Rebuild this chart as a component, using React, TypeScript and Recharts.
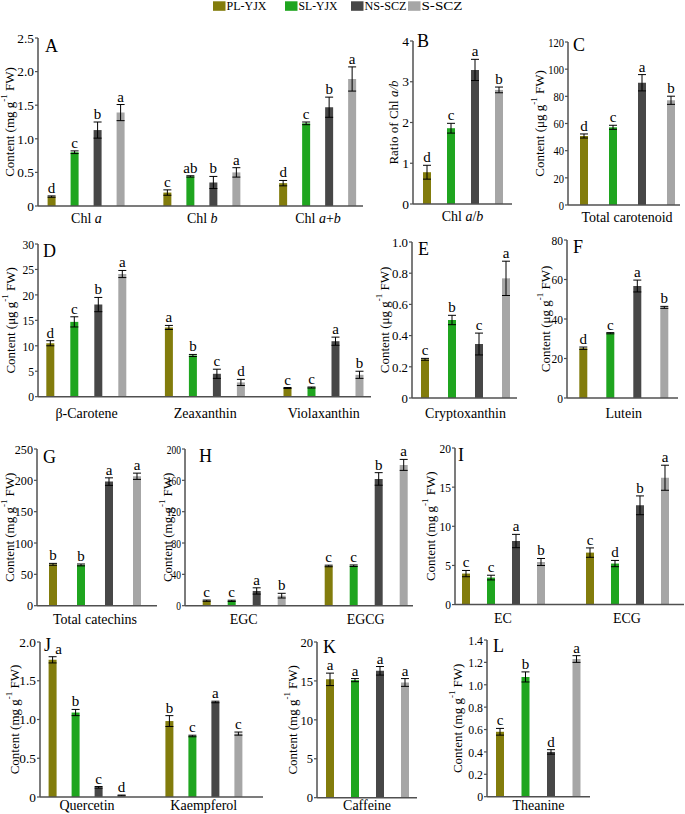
import React from 'react';
import { BarChart, Bar, XAxis, YAxis, ErrorBar, LabelList } from 'recharts';

const FONT = '"Liberation Serif", "Times New Roman", serif';
const AXIS = '#505050';

const seriesNames = ['PL-YJX', 'SL-YJX', 'NS-SCZ', 'S-SCZ'];
const seriesColors = ['#827c0c', '#1fa51f', '#474747', '#a6a6a6'];

// A
const chlCats = ['Chl a', 'Chl b', 'Chl a+b'];
const chlValues = [[0.14, 0.2, 0.34], [0.8, 0.44, 1.23], [1.13, 0.35, 1.47], [1.39, 0.5, 1.89]];
const chlErrors = [[0.01, 0.04, 0.04], [0.02, 0.01, 0.02], [0.12, 0.09, 0.15], [0.12, 0.07, 0.18]];
const chlLetters = [['d', 'c', 'd'], ['c', 'ab', 'c'], ['b', 'b', 'b'], ['a', 'a', 'a']];
const chlTicks = [0, 0.5, 1, 1.5, 2, 2.5];

// B
const ratioCats = ['Chl a/b'];
const ratioValues = [[0.78], [1.86], [3.29], [2.8]];
const ratioErrors = [[0.17], [0.12], [0.26], [0.07]];
const ratioLetters = [['d'], ['c'], ['a'], ['b']];
const ratioTicks = [0, 1, 2, 3, 4];

// C
const carCats = ['Total carotenoid'];
const carValues = [[50.8], [57.2], [90.0], [77.1]];
const carErrors = [[1.5], [1.5], [6], [3]];
const carLetters = [['d'], ['c'], ['a'], ['b']];
const carTicks = [0, 20, 40, 60, 80, 100, 120];

// D
const xanCats = ['β-Carotene', 'Zeaxanthin', 'Violaxanthin'];
const xanValues = [[10.5, 13.6, 1.7], [14.7, 8.1, 1.8], [18.1, 4.5, 10.9], [24.1, 2.8, 4.3]];
const xanErrors = [[0.5, 0.4, 0.1], [1.0, 0.2, 0.1], [1.4, 0.9, 0.8], [0.7, 0.6, 0.7]];
const xanLetters = [['d', 'a', 'c'], ['c', 'b', 'c'], ['b', 'c', 'a'], ['a', 'd', 'b']];
const xanTicks = [0, 5, 10, 15, 20, 25, 30];

// E
const cryCats = ['Cryptoxanthin'];
const cryValues = [[0.248], [0.5], [0.346], [0.767]];
const cryErrors = [[0.006], [0.03], [0.07], [0.11]];
const cryLetters = [['c'], ['b'], ['c'], ['a']];
const cryTicks = [0, 0.2, 0.4, 0.6, 0.8, 1.0];

// F
const lutCats = ['Lutein'];
const lutValues = [[25.2], [32.8], [56.7], [45.9]];
const lutErrors = [[0.6], [0.3], [3], [0.5]];
const lutLetters = [['d'], ['c'], ['a'], ['b']];
const lutTicks = [0, 20, 40, 60, 80];

// G
const totCats = ['Total catechins'];
const totValues = [[66], [65], [198], [206.5]];
const totErrors = [[1.5], [1.5], [6], [5]];
const totLetters = [['b'], ['b'], ['a'], ['a']];
const totTicks = [0, 50, 100, 150, 200, 250];

// H
const egcCats = ['EGC', 'EGCG'];
const egcValues = [[6.4, 50.7], [6.2, 51], [18.8, 161.8], [12.8, 179.7]];
const egcErrors = [[0.8, 1], [0.8, 1], [4, 8], [3, 7]];
const egcLetters = [['c', 'c'], ['c', 'c'], ['a', 'b'], ['b', 'a']];
const egcTicks = [0, 40, 80, 120, 160, 200];

// I
const ecCats = ['EC', 'ECG'];
const ecValues = [[3.96, 6.64], [3.45, 5.24], [8.12, 12.68], [5.44, 16.2]];
const ecErrors = [[0.4, 0.6], [0.3, 0.4], [0.85, 1.2], [0.45, 1.6]];
const ecLetters = [['c', 'c'], ['c', 'd'], ['a', 'b'], ['b', 'a']];
const ecTicks = [0, 5, 10, 15, 20];

// J
const flaCats = ['Quercetin', 'Kaempferol'];
const flaValues = [[1.77, 0.98], [1.09, 0.787], [0.125, 1.226], [0.02, 0.818]];
const flaErrors = [[0.04, 0.07], [0.04, 0.01], [0.01, 0.01], [0.005, 0.02]];
const flaLetters = [['a', 'b'], ['b', 'c'], ['c', 'a'], ['d', 'c']];
const flaTicks = [0, 0.5, 1, 1.5, 2];

// K
const cafCats = ['Caffeine'];
const cafValues = [[15.2], [15.1], [16.3], [14.8]];
const cafErrors = [[0.8], [0.2], [0.55], [0.5]];
const cafLetters = [['a'], ['a'], ['a'], ['a']];
const cafTicks = [0, 5, 10, 15, 20];

// L
const theCats = ['Theanine'];
const theValues = [[0.58], [1.07], [0.4], [1.23]];
const theErrors = [[0.03], [0.045], [0.02], [0.03]];
const theLetters = [['c'], ['b'], ['d'], ['a']];
const theTicks = [0, 0.2, 0.4, 0.6, 0.8, 1.0, 1.2, 1.4];

const panelNames = ['A', 'B', 'C', 'D', 'E', 'F', 'G', 'H', 'I', 'J', 'K', 'L'];

function rich(label: string) {
  if (!label.startsWith('Chl ')) return label;
  const rest = label.slice(4);
  const parts: React.ReactNode[] = ['Chl '];
  rest.split('').forEach((ch, i) => {
    if (ch === 'a' || ch === 'b') parts.push(<tspan key={i} fontStyle="italic">{ch}</tspan>);
    else parts.push(<tspan key={i}>{ch}</tspan>);
  });
  return parts;
}

function XTick(props: any) {
  const { x, y, payload, dy } = props;
  return (
    <text x={x} y={y + dy} textAnchor="middle" fontSize={14} fontFamily={FONT} fill="#000">
      {rich(String(payload.value))}
    </text>
  );
}

function YTick(props: any) {
  const { x, y, payload, sx, dec } = props;
  const v = Number(payload.value);
  const s = v === 0 ? '0' : v.toFixed(dec);
  return (
    <text transform={`translate(${x},${y}) scale(${sx},1)`} x={0} y={0} dy="0.35em" textAnchor="end"
      fontSize={13.5} fontFamily={FONT} fill="#000">
      {s}
    </text>
  );
}

function YTitle(props: any) {
  const { tx, cy, kind } = props;
  let content: React.ReactNode;
  if (kind === 'ratio') {
    content = [<tspan key="1">Ratio of Chl </tspan>, <tspan key="2" fontStyle="italic">a/b</tspan>];
  } else {
    const unit = kind === 'ug' ? 'μg' : 'mg';
    content = [
      <tspan key="1">{`Content (${unit} g`}</tspan>,
      <tspan key="2" fontSize={9} dy={-5}>-1</tspan>,
      <tspan key="3" dy={5}> FW)</tspan>,
    ];
  }
  return (
    <text x={tx} y={cy} transform={`rotate(-90 ${tx} ${cy})`} textAnchor="middle" dominantBaseline="central"
      fontSize={13} fontFamily={FONT} fill="#000">
      {content}
    </text>
  );
}

function Letter(props: any) {
  const vb = props.viewBox || {};
  const x = vb.x ?? props.x;
  const y = vb.y ?? props.y;
  const w = vb.width ?? props.width;
  const err = props.errs[props.index] ?? 0;
  const top = y - err * props.ppu;
  const dx = props.nudge && props.nudge.s === props.series && props.nudge.i === props.index ? props.nudge.dx : 0;
  return (
    <text x={x + w / 2 + dx} y={top - 3} textAnchor="middle" fontSize={15} fontFamily={FONT} fill="#000">
      {props.value}
    </text>
  );
}

type Layout = {
  axisX: number; axisEnd: number; yTop: number; y0: number; labelX: number;
  padL: number; padR: number; gap: number; dy: number; dec: number; kind: string; sx: number;
  lx: number; ly: number; nudge?: { s: number; i: number; dx: number };
};

function Panel(props: {
  cats: string[]; values: number[][]; errors: number[][]; letters: string[][]; ticks: number[]; L: Layout;
}) {
  const { cats, values, errors, letters, ticks, L } = props;
  const chartLeft = Math.max(0, L.labelX - 12);
  const chartTop = L.yTop - 14;
  const xAxisH = 24;
  const width = L.axisEnd + 6 - chartLeft;
  const height = L.y0 - chartTop + xAxisH;
  const max = ticks[ticks.length - 1];
  const ppu = (L.y0 - L.yTop) / max;
  const data = cats.map((c, i) => {
    const row: any = { cat: c };
    values.forEach((s, k) => {
      row['v' + k] = s[i];
      row['e' + k] = errors[k][i];
      row['l' + k] = letters[k][i];
    });
    return row;
  });
  const cy = (L.yTop + L.y0) / 2 - chartTop;
  return (
    <div style={{ position: 'absolute', left: chartLeft, top: chartTop }}>
      <BarChart width={width} height={height} data={data}
        margin={{ top: L.yTop - chartTop, right: 6, bottom: 0, left: 0 }}
        barGap={L.gap} barSize={8}>
        <XAxis dataKey="cat" height={xAxisH} tickLine={false} tickSize={0} tickMargin={0} interval={0}
          axisLine={{ stroke: AXIS, strokeWidth: 1.5 }} padding={{ left: L.padL, right: L.padR }}
          tick={<XTick dy={L.dy} />} />
        <YAxis width={L.axisX - chartLeft} domain={[0, max]} ticks={ticks} interval={0} type="number"
          axisLine={{ stroke: AXIS, strokeWidth: 1.5 }} tickLine={{ stroke: AXIS, strokeWidth: 1.2 }}
          tickSize={3} tickMargin={1}
          tick={<YTick sx={L.sx} dec={L.dec} />}
          label={<YTitle tx={L.labelX - chartLeft} cy={cy} kind={L.kind} />} />
        {values.map((_, k) => (
          <Bar key={k} dataKey={'v' + k} name={seriesNames[k]} fill={seriesColors[k]} isAnimationActive={false}>
            <ErrorBar dataKey={'e' + k} width={4} stroke="#000" strokeWidth={1} direction="y" />
            <LabelList dataKey={'l' + k}
              content={(p: any) => <Letter {...p} ppu={ppu} errs={errors[k]} series={k} nudge={L.nudge} />} />
          </Bar>
        ))}
      </BarChart>
    </div>
  );
}

const layouts: Layout[] = [
  { axisX: 38, axisEnd: 363, yTop: 37.7, y0: 205.7, labelX: 9, padL: -9.4, padR: -12.9, gap: 15, dy: 17, dec: 1, kind: 'mg', sx: 0.99, lx: 45, ly: 52 },
  { axisX: 413, axisEnd: 512, yTop: 41, y0: 204, labelX: 393, padL: 0, padR: 0, gap: 16, dy: 17, dec: 0, kind: 'ratio', sx: 1, lx: 417, ly: 47 },
  { axisX: 568, axisEnd: 680, yTop: 42, y0: 205, labelX: 539, padL: 3, padR: -3, gap: 21, dy: 17, dec: 0, kind: 'ug', sx: 0.78, lx: 573, ly: 51 },
  { axisX: 38, axisEnd: 371, yTop: 244, y0: 396.7, labelX: 10, padL: -10.7, padR: -12.1, gap: 16, dy: 21, dec: 0, kind: 'ug', sx: 0.86, lx: 43, ly: 257 },
  { axisX: 412, axisEnd: 517, yTop: 242, y0: 398, labelX: 384, padL: 1, padR: -1, gap: 19, dy: 20, dec: 1, kind: 'ug', sx: 0.95, lx: 418, ly: 255 },
  { axisX: 567, axisEnd: 678, yTop: 240, y0: 398, labelX: 545, padL: 1.3, padR: -1.3, gap: 19, dy: 20, dec: 0, kind: 'ug', sx: 0.85, lx: 573, ly: 253 },
  { axisX: 37, axisEnd: 157, yTop: 449, y0: 605.7, labelX: 9, padL: -2, padR: 2, gap: 20, dy: 18, dec: 0, kind: 'mg', sx: 0.9, lx: 43, ly: 463 },
  { axisX: 185, axisEnd: 413, yTop: 449, y0: 605.7, labelX: 167, padL: -2.3, padR: -13.7, gap: 17, dy: 18, dec: 0, kind: 'mg', sx: 0.7, lx: 199, ly: 462 },
  { axisX: 455, axisEnd: 684, yTop: 447.7, y0: 604.3, labelX: 430, padL: -14, padR: -5, gap: 17, dy: 18, dec: 0, kind: 'mg', sx: 0.85, lx: 458, ly: 461 },
  { axisX: 40, axisEnd: 263, yTop: 641.7, y0: 796.7, labelX: 14, padL: -11.4, padR: 0.8, gap: 15, dy: 13, dec: 1, kind: 'mg', sx: 0.99, lx: 44, ly: 651, nudge: { s: 0, i: 0, dx: 6 } },
  { axisX: 317, axisEnd: 417, yTop: 642, y0: 797.7, labelX: 292, padL: 0, padR: 0, gap: 17, dy: 12.5, dec: 0, kind: 'mg', sx: 0.93, lx: 323, ly: 653 },
  { axisX: 487, axisEnd: 590, yTop: 640, y0: 796.7, labelX: 457, padL: 0, padR: 0, gap: 17.5, dy: 13, dec: 1, kind: 'mg', sx: 0.87, lx: 493, ly: 652 },
];

const panels = [
  { cats: chlCats, values: chlValues, errors: chlErrors, letters: chlLetters, ticks: chlTicks },
  { cats: ratioCats, values: ratioValues, errors: ratioErrors, letters: ratioLetters, ticks: ratioTicks },
  { cats: carCats, values: carValues, errors: carErrors, letters: carLetters, ticks: carTicks },
  { cats: xanCats, values: xanValues, errors: xanErrors, letters: xanLetters, ticks: xanTicks },
  { cats: cryCats, values: cryValues, errors: cryErrors, letters: cryLetters, ticks: cryTicks },
  { cats: lutCats, values: lutValues, errors: lutErrors, letters: lutLetters, ticks: lutTicks },
  { cats: totCats, values: totValues, errors: totErrors, letters: totLetters, ticks: totTicks },
  { cats: egcCats, values: egcValues, errors: egcErrors, letters: egcLetters, ticks: egcTicks },
  { cats: ecCats, values: ecValues, errors: ecErrors, letters: ecLetters, ticks: ecTicks },
  { cats: flaCats, values: flaValues, errors: flaErrors, letters: flaLetters, ticks: flaTicks },
  { cats: cafCats, values: cafValues, errors: cafErrors, letters: cafLetters, ticks: cafTicks },
  { cats: theCats, values: theValues, errors: theErrors, letters: theLetters, ticks: theTicks },
];

const legendX = [213, 285, 351, 408];
const legendTextLen = [40, 39, 42, 41];

export default function App() {
  return (
    <div style={{ position: 'absolute', left: 0, top: 0, width: 685, height: 814, background: '#fff', fontFamily: FONT }}>
      {panels.map((p, i) => (
        <Panel key={i} {...p} L={layouts[i]} />
      ))}
      <svg width={685} height={814} style={{ position: 'absolute', left: 0, top: 0, pointerEvents: 'none' }}>
        {seriesNames.map((n, k) => (
          <g key={n}>
            <rect x={legendX[k]} y={1.3} width={12.5} height={9.5} fill={seriesColors[k]} />
            <text x={legendX[k] + 13.5} y={10} fontSize={12.5} fontFamily={FONT} fill="#000"
              textLength={legendTextLen[k]} lengthAdjust="spacingAndGlyphs">{n}</text>
          </g>
        ))}
        {panelNames.map((n, i) => (
          <text key={n} x={layouts[i].lx} y={layouts[i].ly} fontSize={18} fontFamily={FONT} fill="#000">{n}</text>
        ))}
      </svg>
    </div>
  );
}
